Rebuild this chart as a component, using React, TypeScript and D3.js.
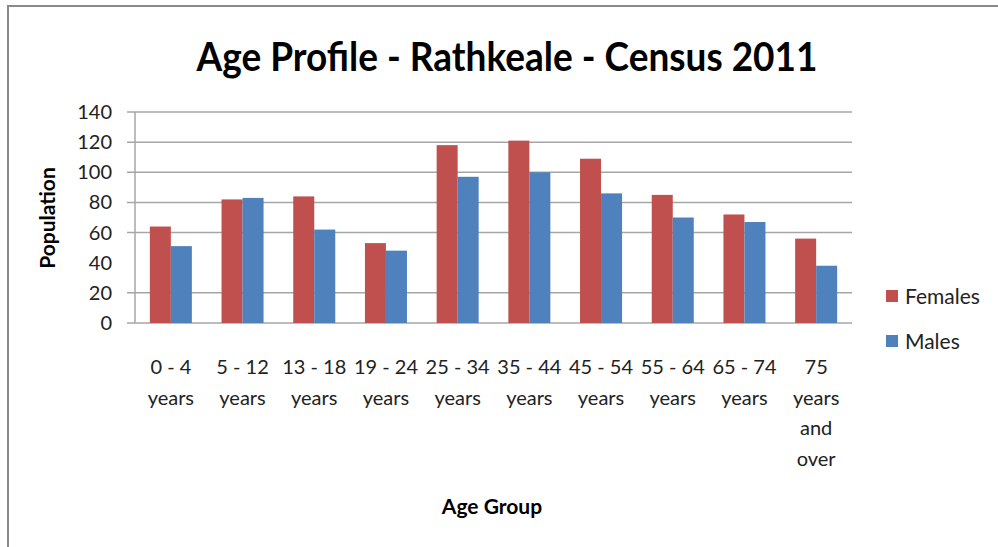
import React, { useEffect } from 'react'
import * as d3 from 'd3'

const categories = [
  ['0 - 4', 'years'],
  ['5 - 12', 'years'],
  ['13 - 18', 'years'],
  ['19 - 24', 'years'],
  ['25 - 34', 'years'],
  ['35 - 44', 'years'],
  ['45 - 54', 'years'],
  ['55 - 64', 'years'],
  ['65 - 74', 'years'],
  ['75', 'years', 'and', 'over']
]
const females = [64, 82, 84, 53, 118, 121, 109, 85, 72, 56]
const males = [51, 83, 62, 48, 97, 100, 86, 70, 67, 38]
const yTicks = [0, 20, 40, 60, 80, 100, 120, 140]
// the 40 gridline is absent in the original picture
const gridTicks = [0, 20, 60, 80, 100, 120, 140]

const series = [
  { name: 'Females', values: females, color: '#C0504D' },
  { name: 'Males', values: males, color: '#4F81BD' }
]

const FONT = 'Lato, "Open Sans", sans-serif'

export default function App() {
  useEffect(() => {
    document.body.style.margin = '0'
  }, [])

  const left = 135
  const right = 852
  const top = 112
  const bottom = 323

  const y = d3.scaleLinear().domain([0, 140]).range([bottom, top])
  const x = d3
    .scaleBand<number>()
    .domain(d3.range(categories.length))
    .range([left, right])
    .paddingInner(0.414)
    .paddingOuter(0.207)
  const xs = d3
    .scaleBand<string>()
    .domain(series.map(s => s.name))
    .range([0, x.bandwidth()])

  return (
    <svg width={998} height={547} style={{ display: 'block', fontFamily: FONT }}>
      <rect width={998} height={547} fill="#fff" />
      <path d="M8,547 V6 H998" fill="none" stroke="#8a8a8a" strokeWidth={2} />

      <text
        x={507}
        y={71}
        textAnchor="middle"
        fontSize={40}
        fontWeight="bold"
        textLength={621}
        lengthAdjust="spacingAndGlyphs"
      >
        Age Profile - Rathkeale - Census 2011
      </text>

      {gridTicks.map(t => (
        <line key={t} x1={left - 8} x2={right} y1={y(t)} y2={y(t)} stroke="#a6a6a6" strokeWidth={1.5} />
      ))}
      <line x1={left} x2={left} y1={top} y2={bottom} stroke="#a6a6a6" strokeWidth={1.5} />

      {yTicks.map(t => (
        <text key={t} x={112} y={y(t) + 7} textAnchor="end" fontSize={20} fill="#222">
          {t}
        </text>
      ))}

      <text
        transform={`translate(55,218) rotate(-90)`}
        textAnchor="middle"
        fontSize={21}
        fontWeight="bold"
      >
        Population
      </text>

      {categories.map((c, i) =>
        series.map(s => (
          <rect
            key={`${i}-${s.name}`}
            x={(x(i) ?? 0) + (xs(s.name) ?? 0)}
            y={y(s.values[i])}
            width={xs.bandwidth()}
            height={bottom - y(s.values[i])}
            fill={s.color}
          />
        ))
      )}

      {categories.map((c, i) => (
        <text key={i} textAnchor="middle" fontSize={20} fill="#222">
          {c.map((line, j) => (
            <tspan key={j} x={(x(i) ?? 0) + x.bandwidth() / 2} y={374 + j * 30.5}>
              {line}
            </tspan>
          ))}
        </text>
      ))}

      <text x={492} y={514} textAnchor="middle" fontSize={21} fontWeight="bold">
        Age Group
      </text>

      {series.map((s, i) => (
        <g key={s.name} transform={`translate(886,${290 + i * 45})`}>
          <rect width={12} height={12} fill={s.color} />
          <text x={19} y={14} fontSize={21} fill="#222">
            {s.name}
          </text>
        </g>
      ))}
    </svg>
  )
}
